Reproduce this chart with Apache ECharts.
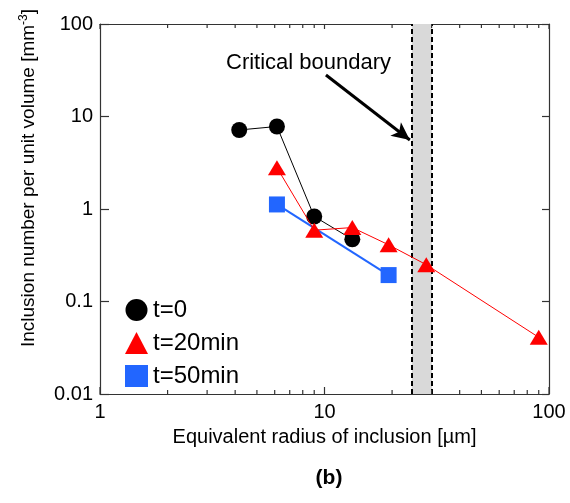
<!DOCTYPE html>
<html><head><meta charset="utf-8">
<script src="https://cdn.jsdelivr.net/npm/echarts@6/dist/echarts.min.js"></script>
<style>html,body{margin:0;padding:0;background:#fff}#c{width:570px;height:503px}</style>
</head><body><div id="c"></div>
<script>
const seriesNames = ['t=0', 't=20min', 't=50min'];
const xT0 = [4.17, 6.14, 9.0, 13.3];
const yT0 = [7.15, 7.8, 0.83, 0.47];
const xT20 = [6.14, 9.0, 13.3, 19.3, 28.4, 90];
const yT20 = [2.8, 0.59, 0.63, 0.41, 0.25, 0.041];
const xT50 = [6.14, 19.3];
const yT50 = [1.12, 0.193];
const xMajorTicks = [1, 10, 100];
const xMinorTicks = [2, 3, 4, 5, 6, 7, 8, 9, 20, 30, 40, 50, 60, 70, 80, 90];
const xTickLabels = ['1', '10', '100'];
const yTickLabels = ['0.01', '0.1', '1', '10', '100'];
const yRange = [0.01, 100];
const boundaryRange = [24.5, 30.1];
const arrowFrom = [10.15, 28.1];
const arrowTo = [24.0, 5.57];
const annotationText = 'Critical boundary';
const xTitle = 'Equivalent radius of inclusion [µm]';
const yTitleMain = 'Inclusion number per unit volume [mm';
const yTitleSup = '-3';
const panelLabel = '(b)';

const FONT = 'Liberation Sans, Arial, Helvetica, sans-serif';
const AX = '#333333';
const pair = (xs, ys) => xs.map((x, i) => [x, ys[i]]);
const decadeIdx = (v, lo) => Math.round(Math.log10(v)) - lo;

const chart = echarts.init(document.getElementById('c'), null, {renderer: 'canvas'});
const baseX = {type: 'log', logBase: 10, min: 1, max: 100, gridIndex: 0, splitLine: {show: false}};
const baseY = {type: 'log', logBase: 10, min: yRange[0], max: yRange[1], gridIndex: 0, splitLine: {show: false}};

// x-axis tick marks (bottom and top, pointing inward), positioned through the axis scales
const tickSeries = {
  type: 'custom', coordinateSystem: 'cartesian2d', xAxisIndex: 0, yAxisIndex: 0,
  silent: true, clip: false, z: 6, legendHoverLink: false, tooltip: {show: false},
  data: xMajorTicks.map(v => [v, 1]).concat(xMinorTicks.map(v => [v, 1])),
  encode: {x: 0, y: 1},
  renderItem: function (params, api) {
    const v = api.value(0);
    const major = xMajorTicks.indexOf(v) >= 0;
    const pb = api.coord([v, yRange[0]]);
    const pt = api.coord([v, yRange[1]]);
    const lb = major ? 7 : 4, lt = major ? 5 : 4;
    const st = {stroke: AX, lineWidth: 1.2};
    return {type: 'group', children: [
      {type: 'line', shape: {x1: pb[0], y1: pb[1], x2: pb[0], y2: pb[1] - lb}, style: st},
      {type: 'line', shape: {x1: pt[0], y1: pt[1], x2: pt[0], y2: pt[1] + lt}, style: st}
    ]};
  }
};

chart.setOption({
  animation: false,
  grid: {left: 100, right: 21, top: 24, bottom: 109},
  xAxis: [
    Object.assign({}, baseX, {
      position: 'bottom',
      axisLine: {show: true, onZero: false, lineStyle: {color: AX, width: 1.2}},
      axisTick: {show: false},
      axisLabel: {color: '#000', fontSize: 20, fontFamily: FONT, margin: 8,
        formatter: v => xTickLabels[decadeIdx(v, 0)]},
      name: xTitle, nameLocation: 'middle', nameGap: 33,
      nameTextStyle: {color: '#000', fontSize: 20, fontFamily: FONT}
    }),
    Object.assign({}, baseX, {
      position: 'top',
      axisLine: {show: true, onZero: false, lineStyle: {color: AX, width: 1.2}},
      axisTick: {show: false},
      axisLabel: {show: false}
    })
  ],
  yAxis: [
    Object.assign({}, baseY, {
      position: 'left',
      axisLine: {show: true, onZero: false, lineStyle: {color: AX, width: 1.2}},
      axisTick: {show: true, inside: true, length: 9, lineStyle: {color: AX, width: 1.2}},
      axisLabel: {color: '#000', fontSize: 20, fontFamily: FONT, margin: 7,
        formatter: v => yTickLabels[decadeIdx(v, -2)]}
    }),
    Object.assign({}, baseY, {
      position: 'right',
      axisLine: {show: true, onZero: false, lineStyle: {color: AX, width: 1.2}},
      axisTick: {show: true, inside: true, length: 7, lineStyle: {color: AX, width: 1.2}},
      axisLabel: {show: false}
    })
  ],
  legend: {
    orient: 'vertical', left: 120, top: 293,
    itemWidth: 23, itemHeight: 22, itemGap: 9,
    textStyle: {fontSize: 24, fontFamily: FONT, color: '#000', lineHeight: 24},
    data: [
      {name: seriesNames[0], icon: 'circle'},
      {name: seriesNames[1], icon: 'triangle'},
      {name: seriesNames[2], icon: 'rect'}
    ]
  },
  series: [
    {
      name: seriesNames[0], type: 'line', xAxisIndex: 0, yAxisIndex: 0,
      data: pair(xT0, yT0), symbol: 'circle', symbolSize: 16, z: 3,
      itemStyle: {color: '#000'}, lineStyle: {color: '#000', width: 1}
    },
    {
      name: seriesNames[2], type: 'line', xAxisIndex: 0, yAxisIndex: 0,
      data: pair(xT50, yT50), symbol: 'rect', symbolSize: 16, z: 4,
      itemStyle: {color: '#2266ff'}, lineStyle: {color: '#2266ff', width: 2}
    },
    {
      name: seriesNames[1], type: 'line', xAxisIndex: 0, yAxisIndex: 0,
      data: pair(xT20, yT20), symbol: 'triangle', symbolSize: [18, 15], z: 5,
      itemStyle: {color: '#ff0000'}, lineStyle: {color: '#ff0000', width: 1},
      markArea: {
        silent: true, z: 1,
        itemStyle: {color: '#d9d9d9'},
        label: {show: false},
        data: [[{xAxis: boundaryRange[0]}, {xAxis: boundaryRange[1]}]]
      },
      markLine: {
        silent: true, symbol: ['none', 'none'], label: {show: false},
        data: [
          {xAxis: boundaryRange[0], lineStyle: {type: [5, 3], width: 2, color: '#000'}},
          {xAxis: boundaryRange[1], lineStyle: {type: [5, 3], width: 2, color: '#000'}},
          [
            {coord: arrowFrom, symbol: 'none', lineStyle: {type: 'solid', width: 3, color: '#000'}},
            {coord: arrowTo, symbol: 'arrow', symbolSize: [13, 18]}
          ]
        ]
      }
    },
    tickSeries
  ],
  graphic: [
    {type: 'text', x: 226, y: 63, silent: true,
      style: {text: annotationText, fontSize: 22, fontFamily: FONT, fill: '#000', align: 'left', verticalAlign: 'middle'}},
    {type: 'text', x: 29, y: 178, rotation: Math.PI / 2, silent: true,
      style: {text: '{a|' + yTitleMain + '}{s|' + yTitleSup + '}{a|]}', align: 'center', verticalAlign: 'middle',
        rich: {a: {fontSize: 19, fontFamily: FONT, fill: '#000', lineHeight: 22},
               s: {fontSize: 12, fontFamily: FONT, fill: '#000', verticalAlign: 'top', lineHeight: 22}}}},
    {type: 'text', x: 329, y: 478, silent: true,
      style: {text: panelLabel, fontSize: 21, fontWeight: 'bold', fontFamily: FONT, fill: '#000', align: 'center', verticalAlign: 'middle'}}
  ]
});
</script></body></html>
